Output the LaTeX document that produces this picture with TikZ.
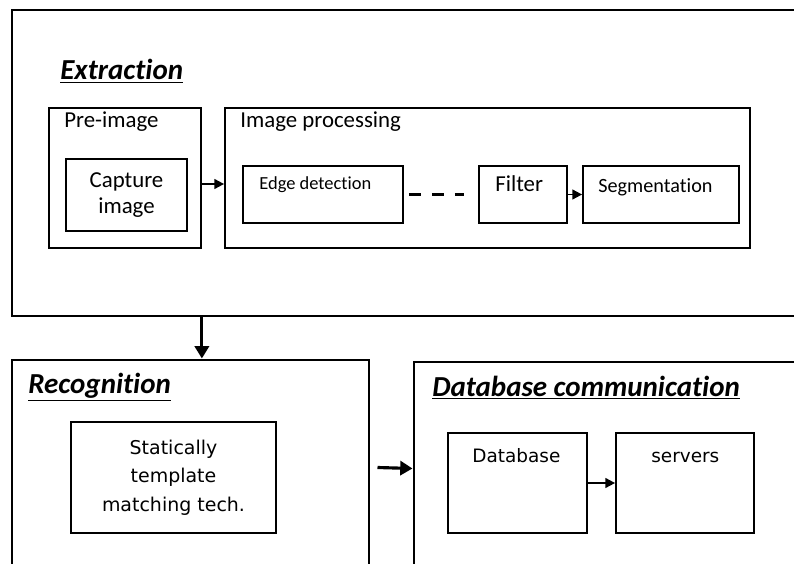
\documentclass[tikz,border=0pt]{standalone}
\usepackage{fontspec}
\setmainfont{Carlito}[Ligatures=NoCommon]
\newfontfamily\dejavu{DejaVu Sans}
\usetikzlibrary{arrows.meta}
\newcommand{\pxu}{0.02cm}
\newcommand{\boxnode}[7]{%
  \node[#1, minimum width={(#5-#3)*\pxu}, minimum height={(#6-#4)*\pxu}]
    (#2) at ({(#3+#5)/2},{(#4+#6)/2}) {#7};}
\tikzset{
  block/.style={draw, line width=1pt, inner sep=0pt},
  stage/.style={draw, line width=1.7pt, inner sep=0pt},
  txt/.style={inner sep=0pt, anchor=base west},
  title/.style={txt, font=\fontsize{16.5}{18}\selectfont\bfseries\itshape},
  thin arrow/.style={-{Triangle[length=5.5pt,width=5.5pt]}, line width=1pt},
  thick arrow/.style={-{Triangle[length=7pt,width=8pt]}, line width=1.8pt},
  gap line/.style={line width=1.3pt, dash pattern=on 12*\pxu off 11*\pxu},
}

\begin{document}
\begin{tikzpicture}[x=\pxu, y=-\pxu]
    \path[use as bounding box, clip] (0,0) rectangle (794,564);

    % extraction stage
    \boxnode{stage}{ext}{12}{10}{805}{316}{}
    \boxnode{block}{pre}{49}{108}{201}{248}{}
    \boxnode{block, align=center, font=\fontsize{13}{14.5}\selectfont}{cap}{66}{159}{187}{231}{Capture\\image}
    \boxnode{block}{proc}{225}{108}{750}{248}{}
    \boxnode{block}{edge}{243}{166}{403}{223}{}
    \boxnode{block}{filt}{479}{166}{567}{223}{}
    \boxnode{block}{seg}{583}{166}{739}{223}{}

    \node[title] (extT) at (60,80) {\underline{Extraction}};
    \node[txt, font=\fontsize{13}{15}\selectfont] (preT) at (64,128) {Pre-image};
    \node[txt, font=\fontsize{13}{15}\selectfont] (procT) at (240,128) {Image processing};
    \node[txt, font=\fontsize{10.5}{12}\selectfont] (edgeT) at (259,190) {Edge detection};
    \node[txt, font=\fontsize{13}{15}\selectfont] (filtT) at (495,192) {Filter};
    \node[txt, font=\fontsize{11.5}{13}\selectfont] (segT) at (598,193) {Segmentation};

    % recognition stage
    \boxnode{stage}{recog}{12}{360}{369}{575}{}
    \boxnode{block, align=center, font=\dejavu\fontsize{10.8}{16.2}\selectfont}{stat}{71}{422}{276}{533}{Statically\\template\\matching tech.}
    \node[title] (recogT) at (28,393) {\underline{Recognition}};

    % database stage
    \boxnode{stage}{dbc}{414}{362}{805}{575}{}
    \boxnode{block}{db}{448}{433}{587}{533}{}
    \boxnode{block}{srv}{616}{433}{754}{533}{}
    \node[title] (dbcT) at (432,396) {\underline{Database communication}};
    \node[txt, font=\dejavu\fontsize{10.5}{12}\selectfont] (dbT) at (472,462) {Database};
    \node[txt, font=\dejavu\fontsize{10.5}{12}\selectfont] (srvT) at (651,462) {servers};

    % connectors
    \draw[thin arrow] ([yshift=-6*\pxu]pre.east) -- ([yshift=-6*\pxu]proc.west);
    \draw[gap line] ([xshift=5*\pxu]edge.east) -- ([xshift=-14*\pxu]filt.west);
    \draw[thin arrow] (filt) -- (seg);
    \draw[thin arrow] (db) -- (srv);
    \draw[thick arrow] (ext.south -| pre.east) -- (recog.north -| pre.east);
    \draw[thick arrow] ([xshift=7*\pxu]recog.east) -- (dbc.west);
\end{tikzpicture}
\end{document}
